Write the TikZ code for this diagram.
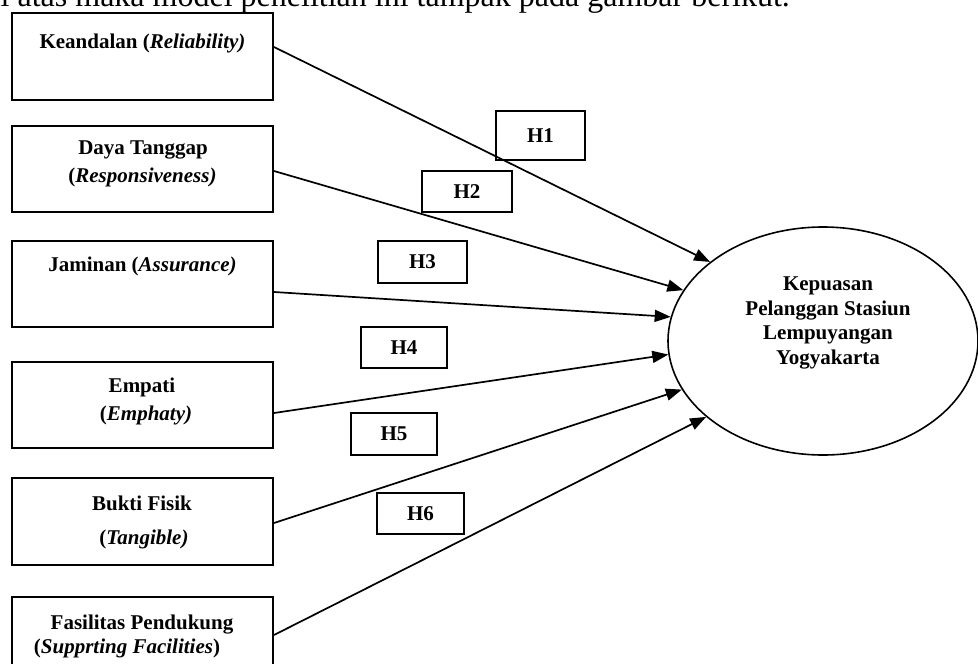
\documentclass[tikz,border=0pt]{standalone}
\usepackage{fontspec}
\setmainfont{Liberation Serif}
\usetikzlibrary{arrows.meta,shapes.geometric}
\begin{document}
\begin{tikzpicture}[x=1pt,y=-1pt,
 box/.style={draw,line width=2pt,minimum width=261pt,minimum height=86pt,inner sep=0pt},
 txt/.style={font=\fontsize{21}{25}\selectfont\bfseries,inner sep=0pt,align=center},
 hbox/.style={draw,line width=1.7pt,minimum height=41pt,inner sep=0pt,font=\fontsize{21}{24}\selectfont\bfseries},
 arr/.style={line width=1.7pt,-{Triangle[length=16pt,width=12pt]}},
 ]
\useasboundingbox (0,0) rectangle (978,664);
% top line of running text (cut off)
\node[anchor=base east,inner sep=0pt,font=\fontsize{32}{38}\selectfont] (toptext) at (790,6) {di atas maka model penelitian ini tampak pada gambar berikut.};
% variable boxes
\node[box,minimum height=87pt] (b1) at (142.5,56.5) {};
\node[box] (b2) at (142.5,169) {};
\node[box] (b3) at (142.5,284) {};
\node[box] (b4) at (142.5,405) {};
\node[box,minimum height=87pt] (b5) at (142.5,521.5) {};
\node[box] (b6) at (142.5,640) {};
% box texts
\node[txt] (t1) at (142.5,43) {Keandalan (\textit{Reliability)}};
\node[txt] (t2a) at (143,150) {Daya Tanggap};
\node[txt] (t2b) at (142.5,177) {(\textit{Responsiveness)}};
\node[txt] (t3) at (142.5,266) {Jaminan (\textit{Assurance)}};
\node[txt] (t4a) at (142,387) {Empati};
\node[txt] (t4b) at (146,415) {(\textit{Emphaty)}};
\node[txt] (t5a) at (142,503) {Bukti Fisik};
\node[txt] (t5b) at (144,539) {(\textit{Tangible)}};
\node[txt] (t6a) at (142,625) {Fasilitas Pendukung};
\node[txt] (t6b) at (127,648) {(\textit{Supprting Facilities})};
% dependent variable
\node[draw,ellipse,line width=1.6pt,minimum width=310pt,minimum height=228pt,inner sep=0pt] (ell) at (823,341) {};
\node[txt,font=\fontsize{21}{24.5}\selectfont\bfseries] (etext) at (828,323) {Kepuasan\\Pelanggan Stasiun\\Lempuyangan\\Yogyakarta};
% hypothesis labels
\node[hbox,minimum width=89pt,minimum height=49pt] (h1) at (540.5,135.5) {H1};
\node[hbox,minimum width=90pt] (h2) at (467,191.5) {H2};
\node[hbox,minimum width=89pt,minimum height=42pt] (h3) at (422.5,262) {H3};
\node[hbox,minimum width=86pt] (h4) at (404,347.5) {H4};
\node[hbox,minimum width=86pt,minimum height=42pt] (h5) at (394,434) {H5};
\node[hbox,minimum width=87pt] (h6) at (420.5,513.5) {H6};
% connectors
\draw[arr] ([yshift=9.5pt]b1.east) -- (ell.145);
\draw[arr] ([yshift=-2pt]b2.east) -- (ell.160.7);
\draw[arr] ([yshift=-8pt]b3.east) -- (ell.171.5);
\draw[arr] ([yshift=-8pt]b4.east) -- (ell.185.2);
\draw[arr] ([yshift=-1.5pt]b5.east) -- (ell.199.3);
\draw[arr] ([yshift=5pt]b6.east) -- (ell.213.9);
\end{tikzpicture}
\end{document}
